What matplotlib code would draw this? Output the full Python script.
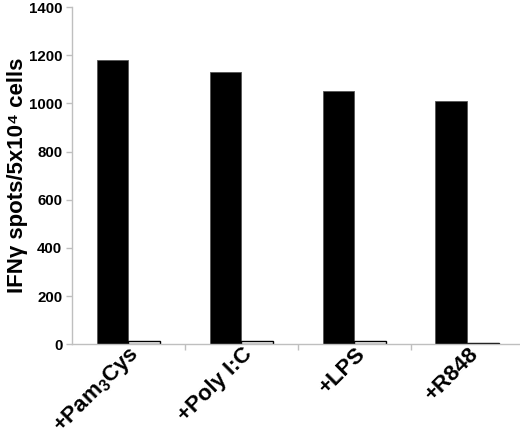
import matplotlib
matplotlib.use('Agg')
import matplotlib.pyplot as plt
import matplotlib.transforms as mtransforms
import numpy as np

# values
categories = ['+Pam$_\\mathregular{3}$Cys', '+Poly I:C', '+LPS', '+R848']
stimulated = [1181, 1131, 1052, 1011]
control = [13, 13, 13, 4]
y_ticks = [0, 200, 400, 600, 800, 1000, 1200, 1400]

plt.rcParams['font.family'] = ['Liberation Sans', 'DejaVu Sans']
plt.rcParams['font.weight'] = 'bold'
plt.rcParams['mathtext.fontset'] = 'custom'
plt.rcParams['mathtext.rm'] = 'Liberation Sans:bold'
plt.rcParams['mathtext.it'] = 'Liberation Sans:bold'
plt.rcParams['mathtext.bf'] = 'Liberation Sans:bold'

fig = plt.figure(figsize=(5.2, 4.38), dpi=100)
ax = fig.add_axes([0.1385, 0.214, 0.868, 0.770])

x = np.arange(len(categories))
w = 0.28
ax.bar(x - w / 2, stimulated, w, color='black', edgecolor='#555555', linewidth=0.6)
ax.bar(x + w / 2, control, w, color='white', edgecolor='black', linewidth=1.0)

ax.set_xlim(-0.5, 3.5)
ax.set_ylim(0, 1400)
ax.set_yticks(y_ticks)
ax.set_yticklabels([str(t) for t in y_ticks], fontsize=10.8, fontweight='bold')

ax.set_xticks(x)
ax.set_xticklabels(categories, rotation=45, ha='right', va='center',
                   rotation_mode='anchor', fontsize=16, fontweight='bold')
ax.tick_params(axis='x', which='major', length=0, pad=5)
shift = mtransforms.ScaledTranslation(8 / 100, 0, fig.dpi_scale_trans)
for lab in ax.get_xticklabels():
    lab.set_transform(lab.get_transform() + shift)
ax.set_xticks(np.arange(0.5, 3.5, 1.0), minor=True)
ax.tick_params(axis='x', which='minor', length=4, color='#bfbfbf', width=1)
ax.tick_params(axis='y', length=4, color='#bfbfbf', width=1, pad=3)

for s in ['top', 'right']:
    ax.spines[s].set_visible(False)
for s in ['left', 'bottom']:
    ax.spines[s].set_color('#bfbfbf')
    ax.spines[s].set_linewidth(1)

ax.set_ylabel('IFN\u03b3 spots/5x10\u2074 cells', fontsize=16,
              fontweight='bold')
ax.yaxis.set_label_coords(-0.097, 0.5)

fig.savefig('out.png', dpi=100)
